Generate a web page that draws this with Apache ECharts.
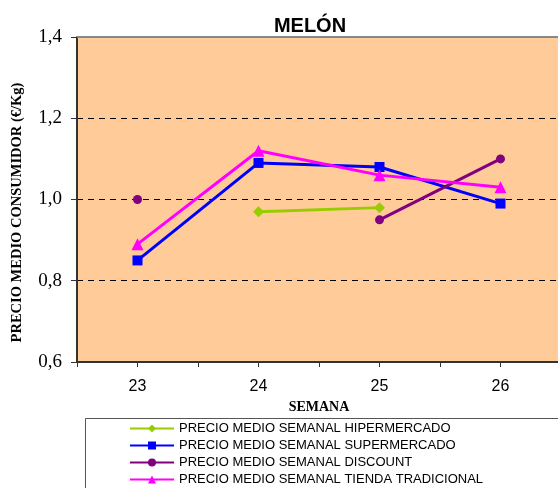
<!DOCTYPE html>
<html><head><meta charset="utf-8">
<script src="https://cdn.jsdelivr.net/npm/echarts@6/dist/echarts.min.js"></script>
<style>html,body{margin:0;padding:0;background:#fff}#c{width:558px;height:488px}</style>
</head><body><div id="c"></div>
<script>
const weeks = [23, 24, 25, 26];
const hiper = [null, 0.97, 0.98, null];
const super_ = [0.85, 1.09, 1.08, 0.99];
const discount = [1.00, null, 0.95, 1.10];
const tradicional = [0.89, 1.12, 1.06, 1.03];
const names = ['PRECIO MEDIO SEMANAL HIPERMERCADO','PRECIO MEDIO SEMANAL SUPERMERCADO','PRECIO MEDIO SEMANAL DISCOUNT','PRECIO MEDIO SEMANAL TIENDA TRADICIONAL'];
const yTicks = [0.6, 0.8, 1.0, 1.2, 1.4];

function pairs(vals){ return weeks.map((w,i)=>[w, vals[i]]); }

const chart = echarts.init(document.getElementById('c'));
const mk = (name, vals, color, symbol, size) => ({
  name, type:'line', data: pairs(vals), connectNulls:false,
  symbol, symbolSize:size, lineStyle:{color, width:3}, itemStyle:{color},
  animation:false
});
const T = 'rgba(0,0,0,0)';
chart.setOption({
  animation:false,
  title:{text:'MELÓN', left:305, textAlign:'center', top:11,
    textStyle:{fontFamily:'Liberation Sans, Arial', fontWeight:'bold', fontSize:20, color:'#000'}},
  graphic:[{type:'rect', shape:{x:85.5, y:418.5, width:480, height:80}, style:{fill:'#fff', stroke:'#555', lineWidth:1}, z:-1}],
  legend:{orient:'vertical', left:124, top:417, height:120, itemWidth:44, itemHeight:10, itemGap:4,
    textStyle:{fontFamily:'Liberation Sans, Arial', fontSize:13, color:'#000'},
    data:names},
  grid:{left:77, top:37, width:484, height:325, outerBoundsMode:'none', show:true, backgroundColor:'#ffcc99', borderWidth:0},
  xAxis:[{type:'value', min:22.5, max:26.5, interval:0.5,
    name:'SEMANA', nameLocation:'middle', nameGap:38,
    nameTextStyle:{fontFamily:'Liberation Serif, Times New Roman', fontWeight:'bold', fontSize:14, color:'#000'},
    axisLine:{lineStyle:{color:'#333', width:2}},
    axisTick:{length:5, lineStyle:{color:'#333'}},
    axisLabel:{margin:17, fontFamily:'Liberation Sans, Arial', fontSize:16, color:'#000',
      formatter:v=> weeks.includes(v) ? String(v) : ''},
    splitLine:{show:false}},
    {type:'value', position:'top', min:22.5, max:26.5, interval:0.5,
    axisLine:{show:true, lineStyle:{color:'#888', width:2}}, axisTick:{show:false}, axisLabel:{show:false}, splitLine:{show:false}}],
  yAxis:{type:'value', min:0.6, max:1.4, interval:0.2,
    name:'PRECIO MEDIO CONSUMIDOR (€/Kg)', nameLocation:'middle', nameGap:52,
    nameTextStyle:{fontFamily:'Liberation Serif, Times New Roman', fontWeight:'bold', fontSize:14.5, color:'#000', padding:[0,26,0,0]},
    axisLine:{show:true, lineStyle:{color:'#333', width:2}},
    axisTick:{show:true, length:6, lineStyle:{color:'#333'}},
    axisLabel:{margin:15, fontFamily:'Liberation Serif, Times New Roman', fontSize:19, color:'#000',
      formatter:v=>{const t=yTicks.find(x=>Math.abs(x-v)<1e-6); return t===undefined?'':t.toFixed(1).replace('.',',');}},
    splitLine:{show:true, lineStyle:{color:[T,'#000','#000','#000',T], type:[6,5], width:1}}},
  series:[
    mk(names[0], hiper, '#99cc00', 'diamond', 11),
    mk(names[1], super_, '#0000ff', 'rect', 10),
    mk(names[2], discount, '#800080', 'circle', 9),
    mk(names[3], tradicional, '#ff00ff', 'triangle', 12)
  ]
});
</script></body></html>
